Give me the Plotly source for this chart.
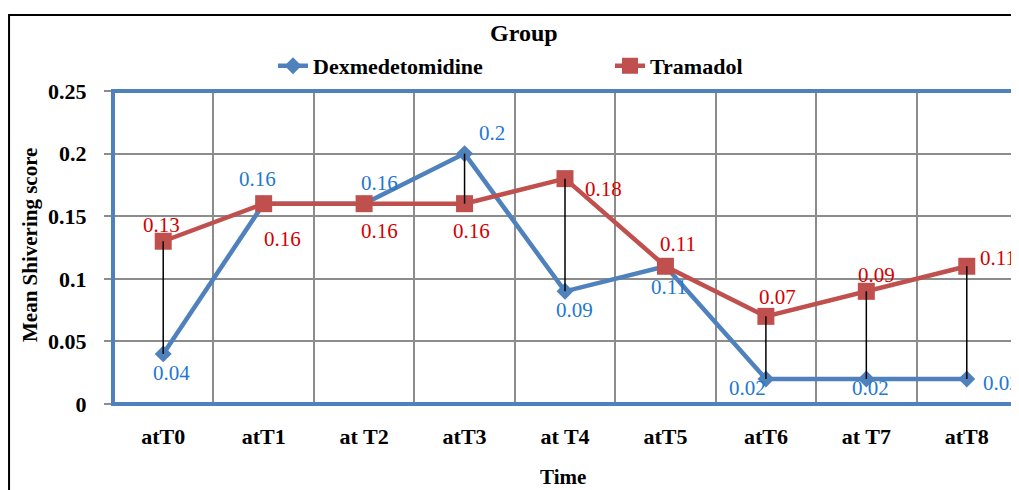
import plotly.graph_objects as go

categories = ["atT0", "atT1", "at T2", "atT3", "at T4", "atT5", "atT6", "at T7", "atT8"]
dexmedetomidine = [0.04, 0.16, 0.16, 0.20, 0.09, 0.11, 0.02, 0.02, 0.02]
tramadol = [0.13, 0.16, 0.16, 0.16, 0.18, 0.11, 0.07, 0.09, 0.11]
y_ticks = [0, 0.05, 0.1, 0.15, 0.2, 0.25]
y_tick_labels = ["0", "0.05", "0.1", "0.15", "0.2", "0.25"]

# label offsets (pixels) for data labels
dex_off = [(8, -19), (-6, 25), (15, 21), (27, 21), (9, -19), (4, -21), (-18, -9), (4, -9), (35, -4)]
tra_off = [(-2, 16), (19, -35), (15, -27), (7, -27), (38, -10), (13, 22), (12, 19), (10, 16), (31, 8)]

BLUE = "#4f81bd"
RED = "#c0504d"
BLUE_TXT = "#1f78d1"
RED_TXT = "#d40000"
FONT = "Liberation Serif"

x = list(range(len(categories)))

fig = go.Figure()

fig.add_trace(go.Scatter(
    x=x, y=dexmedetomidine, name="<b>Dexmedetomidine</b>", mode="lines+markers",
    line=dict(color=BLUE, width=4.5),
    marker=dict(symbol="diamond", size=13, color=BLUE),
))
fig.add_trace(go.Scatter(
    x=x, y=tramadol, name="<b>Tramadol</b>", mode="lines+markers",
    line=dict(color=RED, width=4.5),
    marker=dict(symbol="square", size=17, color=RED),
))

# high-low lines
hx, hy = [], []
for i, (a, b) in enumerate(zip(dexmedetomidine, tramadol)):
    if a != b:
        hx += [i, i, None]
        hy += [min(a, b), max(a, b), None]
fig.add_trace(go.Scatter(x=hx, y=hy, mode="lines", line=dict(color="black", width=1.5),
                         showlegend=False, hoverinfo="skip"))

annotations = []
for i, v in enumerate(dexmedetomidine):
    annotations.append(dict(x=i, y=v, xref="x", yref="y", text=f"{v:g}", showarrow=False,
                            xshift=dex_off[i][0], yshift=dex_off[i][1],
                            font=dict(family=FONT, size=21, color=BLUE_TXT)))
for i, v in enumerate(tramadol):
    annotations.append(dict(x=i, y=v, xref="x", yref="y", text=f"{v:g}", showarrow=False,
                            xshift=tra_off[i][0], yshift=tra_off[i][1],
                            font=dict(family=FONT, size=21, color=RED_TXT)))
annotations.append(dict(x=0.4546, y=1.185, xref="paper", yref="paper", text="<b>Group</b>",
                        xanchor="center", yanchor="middle",
                        showarrow=False, font=dict(family=FONT, size=24, color="black")))
annotations.append(dict(x=-0.0918, y=0.508, xref="paper", yref="paper", text="<b>Mean Shivering score</b>",
                        xanchor="center", yanchor="middle",
                        textangle=-90, showarrow=False, font=dict(family=FONT, size=21, color="black")))
annotations.append(dict(x=0.498, y=-0.233, xref="paper", yref="paper", text="<b>Time</b>",
                        xanchor="center", yanchor="middle",
                        showarrow=False, font=dict(family=FONT, size=21, color="black")))

fig.update_layout(
    width=1011, height=482,
    margin=dict(l=105, r=2, t=83, b=86),
    paper_bgcolor="white", plot_bgcolor="white",
    showlegend=True,
    legend=dict(orientation="h", x=0.177, xanchor="left", y=1.08, yanchor="middle",
                font=dict(family=FONT, size=22, color="black"), entrywidth=292,
                bgcolor="rgba(0,0,0,0)"),
    annotations=annotations,
    shapes=[
        dict(type="rect", xref="paper", yref="paper", x0=-0.115, x1=1.05, y0=-0.35, y1=1.243,
             line=dict(color="black", width=2), layer="above"),
        dict(type="rect", xref="paper", yref="paper", x0=0, x1=1, y0=0, y1=1,
             line=dict(color=BLUE, width=4), layer="above"),
    ],
)

fig.update_xaxes(
    range=[-0.5, 8.5], tickmode="array", tickvals=x, ticktext=[f"<b>{c}</b>" for c in categories],
    showgrid=False, zeroline=False, showline=False, ticks="",
    tickfont=dict(family=FONT, size=22, color="black"), ticklabelstandoff=17,
    minor=dict(tickmode="array", tickvals=[i + 0.5 for i in range(8)], showgrid=True,
               gridcolor="#8c8c8c", gridwidth=1.5, ticks=""),
)
fig.update_yaxes(
    range=[0, 0.25], tickmode="array", tickvals=y_ticks, ticktext=[f"<b>{t}</b>" for t in y_tick_labels],
    showgrid=True, gridcolor="#8c8c8c", gridwidth=1.5, zeroline=False, showline=False,
    ticks="outside", ticklen=8, tickcolor="#8c8c8c", tickwidth=1.5,
    tickfont=dict(family=FONT, size=22, color="black"), ticklabelstandoff=13,
)

fig.write_html("out.html")
